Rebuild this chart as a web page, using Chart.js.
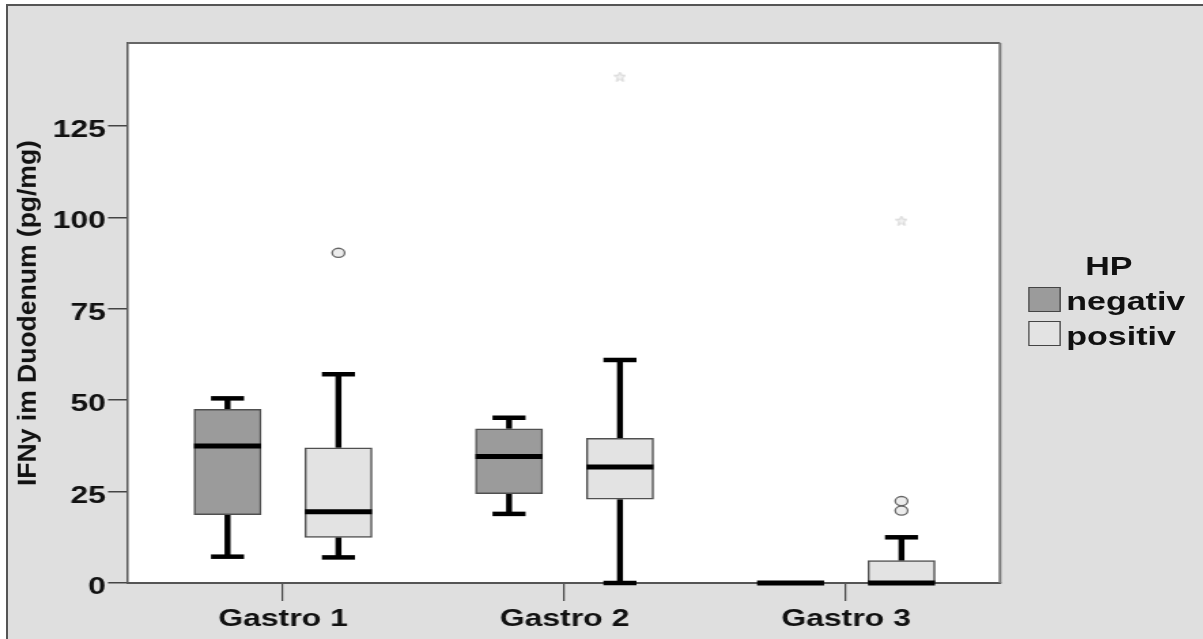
<!DOCTYPE html>
<html>
<head>
<meta charset="utf-8">
<title>IFNy im Duodenum</title>
<script src="https://cdn.jsdelivr.net/npm/chart.js@4.4.1/dist/chart.umd.min.js"></script>
<style>
  html, body { margin: 0; padding: 0; background: #fff; overflow: hidden; }
  body { width: 1203px; height: 639px; position: relative; font-family: 'Liberation Sans', Arial, sans-serif; }
  #frame { position: absolute; left: 6px; top: 4px; width: 1203px; height: 639px; background: #dfdfdf; border-left: 2px solid #555; border-top: 2px solid #555; }
  /* the chart is drawn narrow and then widened, like the SPSS export */
  #stage { position: absolute; left: 0; top: 0; width: 885px; height: 639px; transform: scaleX(1.36); transform-origin: 0 0; }
  #stage canvas { position: absolute; left: 0; top: 0; }
  #y-title { position: absolute; left: 27px; top: 313px; font-weight: bold; font-size: 26.5px; line-height: 1; color: #111; white-space: nowrap; transform: translate(-50%, -50%) rotate(-90deg); }
  .legend-title, .legend-label { position: absolute; font-weight: bold; font-size: 25px; line-height: 25px; color: #111; white-space: nowrap; }
  .legend-box { position: absolute; left: 756px; width: 23.5px; height: 25px; box-sizing: border-box; border: 1.5px solid #444; }
</style>
</head>
<body>
<div id="frame"></div>
<div id="stage">
  <canvas id="box-chart" width="885" height="639"></canvas>
  <div class="legend-title" style="left: 798px; top: 254px;">HP</div>
  <div class="legend-box" style="top: 287px; background: #9b9b9b;"></div>
  <div class="legend-label" style="left: 784px; top: 289px;">negativ</div>
  <div class="legend-box" style="top: 321px; background: #e3e3e3;"></div>
  <div class="legend-label" style="left: 784px; top: 324px;">positiv</div>
</div>
<div id="y-title">IFNy im Duodenum (pg/mg)</div>
<script>
// Categories and tick labels
const categories = ['Gastro 1', 'Gastro 2', 'Gastro 3'];
const yTicks = [0, 25, 50, 75, 100, 125];

// HP negativ: five-number summary per category
const negMin = [7.2, 18.9, 0];
const negQ1 = [18.7, 24.4, 0];
const negMedian = [37.5, 34.6, 0];
const negQ3 = [47.5, 42.2, 0];
const negMax = [50.5, 45.2, 0];

// HP positiv: five-number summary per category
const posMin = [7.0, 0, 0];
const posQ1 = [12.5, 22.9, 0];
const posMedian = [19.5, 31.7, 0];
const posQ3 = [37.0, 39.6, 6.1];
const posMax = [57.1, 61.0, 12.5];

// Outliers (all in the positiv group): circles and extreme values (stars)
const mildOutlierCat = [0, 2, 2];
const mildOutlierVal = [90.3, 22.4, 19.8];
const extremeOutlierCat = [1, 2];
const extremeOutlierVal = [138.5, 99.1];

// Styling / geometry
const NEG_FILL = '#9b9b9b';
const POS_FILL = '#e3e3e3';
const GROUP_SHIFT = 0.197;   // box offset from the category tick, in category units
const BOX_PX = 49.3;
const CAP_PX = 24.3;

const groups = [
  { min: negMin, q1: negQ1, median: negMedian, q3: negQ3, max: negMax },
  { min: posMin, q1: posQ1, median: posMedian, q3: posQ3, max: posMax }
];

Chart.defaults.font.family = "'Liberation Sans', Arial, sans-serif";

/**
 * x position of a box: category index shifted left (negativ) or right (positiv)
 */
function boxX(cat, group) {
  return cat + (group === 0 ? -GROUP_SHIFT : GROUP_SHIFT);
}

/**
 * Small 5-point star used as the marker for extreme values
 */
function makeStar() {
  const c = document.createElement('canvas');
  c.width = 9;
  c.height = 10;
  const g = c.getContext('2d');
  g.translate(4.5, 5.4);
  g.scale(0.85, 1);
  g.beginPath();
  for (let k = 0; k < 10; k++) {
    const r = k % 2 === 0 ? 5 : 2.2;
    const a = -Math.PI / 2 + k * Math.PI / 5;
    g.lineTo(r * Math.cos(a), r * Math.sin(a));
  }
  g.closePath();
  g.fillStyle = '#f2f2f2';
  g.fill();
  g.strokeStyle = '#cfcfcf';
  g.lineWidth = 1;
  g.stroke();
  return c;
}

function strokeLine(ctx, x1, y1, x2, y2) {
  ctx.beginPath();
  ctx.moveTo(x1, y1);
  ctx.lineTo(x2, y2);
  ctx.stroke();
}

// White plot area and its top/right frame
const plotFrame = {
  id: 'plotFrame',
  beforeDraw(chart) {
    const { ctx, chartArea: a } = chart;
    ctx.save();
    ctx.fillStyle = '#fff';
    ctx.fillRect(a.left, a.top, a.right - a.left, a.bottom - a.top);
    ctx.restore();
  },
  afterDraw(chart) {
    const { ctx, chartArea: a } = chart;
    ctx.save();
    ctx.strokeStyle = '#666';
    ctx.lineWidth = 2;
    strokeLine(ctx, a.left, a.top, a.right, a.top);
    ctx.strokeStyle = '#777';
    strokeLine(ctx, a.right, a.top, a.right, a.bottom);
    ctx.restore();
  }
};

// Whiskers go under the boxes, medians on top
const boxParts = {
  id: 'boxParts',
  beforeDatasetsDraw(chart) {
    const { ctx, scales: { x, y } } = chart;
    ctx.save();
    ctx.strokeStyle = '#000';
    ctx.lineCap = 'butt';
    groups.forEach((g, gi) => {
      categories.forEach((c, i) => {
        const cx = x.getPixelForValue(boxX(i, gi));
        if (g.max[i] > g.q3[i]) {
          ctx.lineWidth = 4.4;
          strokeLine(ctx, cx, y.getPixelForValue(g.max[i]), cx, y.getPixelForValue(g.q3[i]));
          ctx.lineWidth = 4.5;
          const yy = y.getPixelForValue(g.max[i]);
          strokeLine(ctx, cx - CAP_PX / 2, yy, cx + CAP_PX / 2, yy);
        }
        if (g.min[i] < g.q1[i]) {
          ctx.lineWidth = 4.4;
          strokeLine(ctx, cx, y.getPixelForValue(g.min[i]), cx, y.getPixelForValue(g.q1[i]));
          ctx.lineWidth = 4.5;
          const yy = y.getPixelForValue(g.min[i]);
          strokeLine(ctx, cx - CAP_PX / 2, yy, cx + CAP_PX / 2, yy);
        }
      });
    });
    ctx.restore();
  },
  afterDatasetsDraw(chart) {
    const { ctx, scales: { x, y } } = chart;
    ctx.save();
    ctx.strokeStyle = '#000';
    ctx.lineWidth = 5;
    groups.forEach((g, gi) => {
      categories.forEach((c, i) => {
        const cx = x.getPixelForValue(boxX(i, gi));
        const yy = y.getPixelForValue(g.median[i]);
        strokeLine(ctx, cx - BOX_PX / 2, yy, cx + BOX_PX / 2, yy);
      });
    });
    ctx.restore();
  }
};

const tickFont = { size: 23.5, weight: 'bold' };

new Chart(document.getElementById('box-chart'), {
  type: 'bar',
  data: {
    datasets: [
      {
        label: 'negativ',
        data: categories.map((c, i) => ({ x: boxX(i, 0), y: [negQ1[i], negQ3[i]] })),
        backgroundColor: NEG_FILL,
        borderColor: '#505050',
        borderWidth: 1.5,
        borderSkipped: false,
        barThickness: BOX_PX,
        grouped: false
      },
      {
        label: 'positiv',
        data: categories.map((c, i) => ({ x: boxX(i, 1), y: [posQ1[i], posQ3[i]] })),
        backgroundColor: POS_FILL,
        borderColor: '#505050',
        borderWidth: 1.5,
        borderSkipped: false,
        barThickness: BOX_PX,
        grouped: false
      },
      {
        type: 'scatter',
        label: 'Ausreißer',
        data: mildOutlierCat.map((c, k) => ({ x: boxX(c, 1), y: mildOutlierVal[k] })),
        pointStyle: 'circle',
        pointRadius: 4.6,
        backgroundColor: '#ececec',
        borderColor: '#666',
        borderWidth: 1.3
      },
      {
        type: 'scatter',
        label: 'Extremwerte',
        data: extremeOutlierCat.map((c, k) => ({ x: boxX(c, 1), y: extremeOutlierVal[k] })),
        pointStyle: makeStar(),
        pointRadius: 5
      }
    ]
  },
  options: {
    responsive: false,
    animation: false,
    devicePixelRatio: 1,
    layout: { padding: { left: 0, top: 43, right: 149.7, bottom: 0 } },
    plugins: {
      legend: { display: false },
      tooltip: { enabled: false }
    },
    scales: {
      x: {
        type: 'linear',
        min: -0.5506,
        max: 2.547,
        offset: false,
        afterBuildTicks: axis => { axis.ticks = categories.map((c, i) => ({ value: i })); },
        afterFit: axis => { axis.height = 56; },
        grid: { offset: false, drawOnChartArea: false, drawTicks: true, tickLength: 18, color: '#444', lineWidth: 1.2 },
        border: { display: true, color: '#555', width: 2 },
        ticks: {
          padding: 4,
          color: '#111',
          font: tickFont,
          maxRotation: 0,
          autoSkip: false,
          callback: v => categories[v]
        }
      },
      y: {
        min: 0,
        max: 147.7,
        afterBuildTicks: axis => { axis.ticks = yTicks.map(v => ({ value: v })); },
        afterFit: axis => { axis.width = 94.1; },
        grid: { drawOnChartArea: false, drawTicks: true, tickLength: 14.7, color: '#444', lineWidth: 1.5 },
        border: { display: true, color: '#555', width: 1.5 },
        ticks: { padding: 1.5, color: '#111', font: tickFont, labelOffset: 4.5 }
      }
    }
  },
  plugins: [plotFrame, boxParts]
});
</script>
</body>
</html>
